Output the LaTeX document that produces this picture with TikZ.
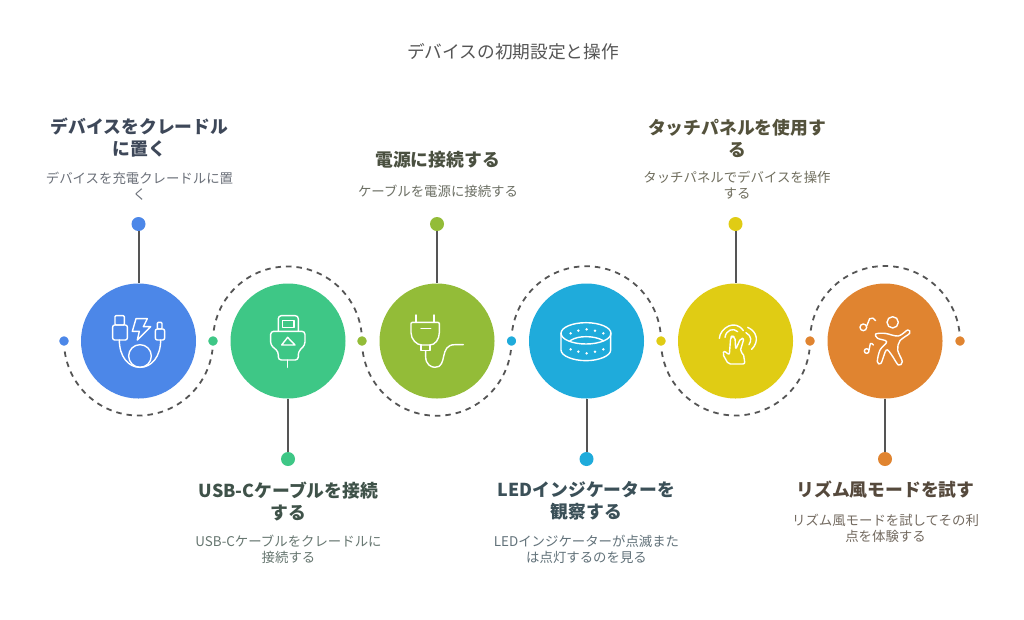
\documentclass[tikz,border=0pt]{standalone}
\usepackage{fontspec}
\setmainfont{Noto Sans CJK JP}
\begin{document}
\begin{tikzpicture}[x=1pt,y=-1pt,
  disc/.style={circle,inner sep=0pt,minimum size=115pt},
  topdot/.style={circle,inner sep=0pt,minimum size=14pt},
  pathdot/.style={circle,inner sep=0pt,minimum size=9.5pt},
  stem/.style={draw=stemgrey,line width=2pt},
  trail/.style={draw=stemgrey,line width=1.8pt,dash pattern=on 5.5pt off 5pt},
  ico/.style={draw=white,line width=1.4pt,line join=round,line cap=round},
  ttl/.style={inner sep=0pt,align=center,font=\fontsize{17.8}{22}\selectfont\bfseries},
  bdy/.style={inner sep=0pt,align=center,font=\fontsize{13.4}{16}\selectfont},
]
\definecolor{stemgrey}{HTML}{555555}
\definecolor{cA}{HTML}{4C87E8}
\definecolor{cB}{HTML}{3EC786}
\definecolor{cC}{HTML}{93BC38}
\definecolor{cD}{HTML}{1FABDB}
\definecolor{cE}{HTML}{E0CC14}
\definecolor{cF}{HTML}{E08430}
\useasboundingbox[fill=white] (0,0) rectangle (1024,619);

\node[inner sep=0pt,text=stemgrey,font=\fontsize{17.7}{22}\selectfont] (title) at (513,52) {デバイスの初期設定と操作};

% winding dashed trail
\coordinate (p0) at (64,341);
\coordinate (p1) at (213,341);
\coordinate (p2) at (362,341);
\coordinate (p3) at (511.5,341);
\coordinate (p4) at (661,341);
\coordinate (p5) at (810,341);
\coordinate (p6) at (960,341);
\draw[trail] (p0) arc[start angle=180,end angle=0,radius=74.5];
\draw[trail] (p1) arc[start angle=180,end angle=360,radius=74.5];
\draw[trail] (p2) arc[start angle=180,end angle=0,radius=74.75];
\draw[trail] (p3) arc[start angle=180,end angle=360,radius=74.75];
\draw[trail] (p4) arc[start angle=180,end angle=0,radius=74.5];
\draw[trail] (p5) arc[start angle=180,end angle=360,radius=75];
\foreach \n/\c in {0/cA,1/cB,2/cC,3/cD,4/cE,5/cF,6/cF}
  \node[pathdot,fill=\c,draw=white,line width=4pt,minimum size=13.5pt] (d\n) at (p\n) {};

% discs and stems
\node[disc,fill=cA] (c1) at (138.5,341) {};
\node[disc,fill=cB] (c2) at (288,341) {};
\node[disc,fill=cC] (c3) at (437,341) {};
\node[disc,fill=cD] (c4) at (586.5,341) {};
\node[disc,fill=cE] (c5) at (735.5,341) {};
\node[disc,fill=cF] (c6) at (885,341) {};
\node[topdot,fill=cA] (t1) at (138.5,224) {};
\node[topdot,fill=cB] (t2) at (288,459) {};
\node[topdot,fill=cC] (t3) at (437,224) {};
\node[topdot,fill=cD] (t4) at (586.5,459) {};
\node[topdot,fill=cE] (t5) at (735.5,224) {};
\node[topdot,fill=cF] (t6) at (885,459) {};
\foreach \i in {1,...,6} \draw[stem] (t\i) -- (c\i);

% texts
\definecolor{hA}{HTML}{3E4859}\definecolor{hB}{HTML}{3F5249}\definecolor{hC}{HTML}{4A5040}
\definecolor{hD}{HTML}{3B5058}\definecolor{hE}{HTML}{54523C}\definecolor{hF}{HTML}{55493C}
\definecolor{bA}{HTML}{6B7079}\definecolor{bB}{HTML}{667670}\definecolor{bC}{HTML}{6C6F64}
\definecolor{bD}{HTML}{62727A}\definecolor{bE}{HTML}{706E5E}\definecolor{bF}{HTML}{736A60}
\node[ttl,text=hA] (h1) at (139.5,138) {デバイスをクレードル\\に置く};
\node[bdy,text=bA] (b1) at (139.5,186) {デバイスを充電クレードルに置\\く};
\node[ttl,text=hB] (h2) at (288.5,501) {USB-Cケーブルを接続\\する};
\node[bdy,text=bB] (b2) at (288.5,549) {USB-Cケーブルをクレードルに\\接続する};
\node[ttl,text=hC] (h3) at (437.5,160) {電源に接続する};
\node[bdy,text=bC] (b3) at (438,191) {ケーブルを電源に接続する};
\node[ttl,text=hD] (h4) at (586.5,501) {LEDインジケーターを\\観察する};
\node[bdy,text=bD] (b4) at (586.5,549) {LEDインジケーターが点滅また\\は点灯するのを見る};
\node[ttl,text=hE] (h5) at (737,138) {タッチパネルを使用す\\る};
\node[bdy,text=bE] (b5) at (737,185) {タッチパネルでデバイスを操作\\する};
\node[ttl,text=hF] (h6) at (885.5,490) {リズム風モードを試す};
\node[bdy,text=bF] (b6) at (885.5,528) {リズム風モードを試してその利\\点を体験する};

% icon 1: charging cable
\begin{scope}[shift={(50,260)},x=0.3333pt,y=-0.3333pt]
  \draw[ico,rounded corners=1pt] (195,167) rectangle (223,195);
  \draw[ico,rounded corners=2pt] (188,195) rectangle (232,240);
  \draw[ico,rounded corners=1pt] (322,187) rectangle (336,207);
  \draw[ico,rounded corners=2pt] (316,207) rectangle (344,240);
  \draw[ico] (258,176) -- (247,214) -- (268,214) -- (262,240) -- (302,200) -- (280,200) -- (292,176) -- cycle;
  \draw[ico] (270,288) circle[radius=34];
  \draw[ico] (208,240) .. controls (208,290) and (235,322) .. (270,322) .. controls (305,322) and (332,290) .. (332,240);
\end{scope}
% icon 2: USB-C plug
\begin{scope}[shift={(50,260)},x=0.3333pt,y=-0.3333pt]
  \draw[ico,rounded corners=3pt] (685,212) -- (685,167) -- (745,167) -- (745,212);
  \draw[ico] (697,182) rectangle (732,203);
  \draw[ico,rounded corners=3pt] (662,214) -- (662,255) -- (685,275) -- (685,300) -- (745,300) -- (745,275) -- (765,255) -- (765,214) -- cycle;
  \draw[ico] (713,232) -- (695,255) -- (735,255) -- cycle;
  \draw[ico] (713,300) -- (713,322);
\end{scope}
% icon 3: power plug
\begin{scope}[shift={(360,260)},x=0.3333pt,y=-0.3333pt]
  \draw[ico] (168,165) -- (168,187) (222,165) -- (222,187);
  \draw[ico] (153,190) -- (153,218) .. controls (153,238) and (170,255) .. (185,255) -- (210,255) .. controls (225,255) and (238,238) .. (238,218) -- (238,190) -- (234,187) -- (157,187) -- cycle;
  \draw[ico] (183,205) -- (212,205);
  \draw[ico] (183,255) -- (183,272) -- (210,272) -- (210,255);
  \draw[ico] (197,272) -- (197,290) .. controls (197,312) and (212,322) .. (225,322) .. controls (265,322) and (235,254) .. (285,254) -- (310,254);
\end{scope}
% icon 4: LED ring
\begin{scope}[shift={(545,300)},x=0.3333pt,y=-0.3333pt]
  \draw[ico] (123,100) ellipse[x radius=75,y radius=32];
  \draw[ico] (48,100) -- (48,150) .. controls (48,168) and (85,182) .. (123,182) .. controls (161,182) and (197,168) .. (197,150) -- (197,100);
  \draw[ico] (75,122) .. controls (90,113) and (105,110) .. (123,110) .. controls (141,110) and (160,113) .. (175,122);
  \foreach \px/\py in {77/100,100/92,125/88,150/92,175/100,77/148,100/155,125/160,150/155,175/148}
    \fill[white] (\px,\py) circle[radius=4.2];
\end{scope}
% icon 5: touching hand
\begin{scope}[shift={(700,300)},x=0.3333pt,y=-0.3333pt]
  \draw[ico,rounded corners=2pt] (85,192) -- (68,162) -- (72,152) -- (88,165) -- (92,112) -- (97,107) -- (105,112) -- (107,148) -- (122,115) -- (132,115) -- (120,155) -- (130,160) -- (135,192) -- cycle;
  \draw[ico] (58,115) .. controls (60,85) and (105,55) .. (130,92);
  \draw[ico] (75,112) .. controls (78,90) and (100,82) .. (113,95);
  \draw[ico] (143,82) .. controls (172,95) and (178,125) .. (155,148);
  \draw[ico] (138,98) .. controls (155,108) and (155,122) .. (147,134);
\end{scope}
% icon 6: dancer
\begin{scope}[shift={(845,300)},x=0.3333pt,y=-0.3333pt]
  \draw[ico] (143,67) circle[radius=17];
  \draw[ico] plot[smooth cycle,tension=0.55] coordinates {(92,102) (120,100) (160,108) (188,90) (194,100) (165,122) (158,150) (172,185) (160,195) (140,165) (124,150) (108,190) (97,185) (105,150) (125,125) (98,115)};
  \draw[ico] (55,82) circle[radius=10];
  \draw[ico] (65,78) -- (74,56) .. controls (80,50) and (88,56) .. (92,62);
  \draw[ico] (65,153) circle[radius=7];
  \draw[ico] (72,150) -- (76,131) .. controls (79,128) and (83,131) .. (85,135);
\end{scope}
\end{tikzpicture}
\end{document}
